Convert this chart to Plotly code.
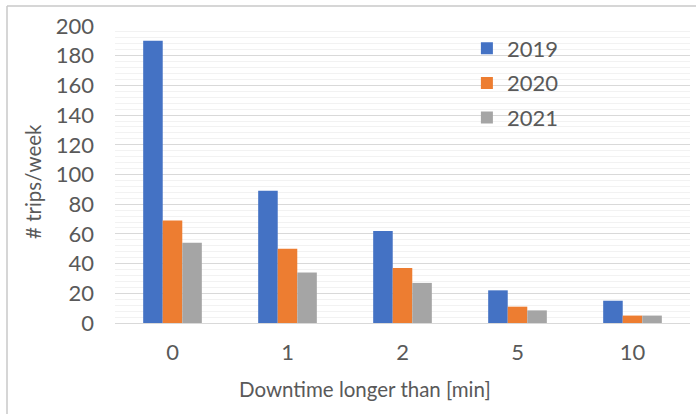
import plotly.graph_objects as go

categories = ["0", "1", "2", "5", "10"]
series_names = ["2019", "2020", "2021"]
trips_2019 = [190, 89, 62, 22, 15]
trips_2020 = [69, 50, 37, 11, 5]
trips_2021 = [54, 34, 27, 8.5, 5]
colors = ["#4472C4", "#ED7D31", "#A5A5A5"]

W, H = 696, 414
L, R, T, B = 115, 6, 26, 91
FONT = "Lato, 'Open Sans', sans-serif"
TXT = "#595959"
FS = 22
FS_TITLE = 20.5

fig = go.Figure()
for name, vals, col in zip(series_names, [trips_2019, trips_2020, trips_2021], colors):
    fig.add_trace(go.Bar(
        x=categories, y=vals, name=name, legendgroup=name,
        marker=dict(color=col, line=dict(width=0)),
    ))

fig.update_layout(
    width=W, height=H,
    margin=dict(l=L, r=R, t=T, b=B),
    paper_bgcolor="white", plot_bgcolor="white",
    barmode="group", bargap=0.49, bargroupgap=0,
    font=dict(family=FONT, size=FS, color=TXT),
    legend=dict(
        x=0.612, y=0.995, xanchor="left", yanchor="top",
        font=dict(size=FS, color=TXT),
        bgcolor="rgba(0,0,0,0)",
        traceorder="grouped", tracegroupgap=3,
        itemwidth=30,
    ),
    showlegend=True,
)

fig.update_xaxes(
    type="category", showgrid=False, zeroline=False,
    showline=False, ticks="", tickfont=dict(size=FS, color=TXT),
    ticklabelstandoff=14,
)
fig.update_yaxes(
    range=[0, 200], dtick=20, showgrid=True, gridcolor="#D9D9D9", gridwidth=1,
    minor=dict(dtick=4, showgrid=True, gridcolor="#F2F2F2", gridwidth=1),
    zeroline=True, zerolinecolor="#D9D9D9", zerolinewidth=1,
    showline=False, ticks="", tickfont=dict(size=FS, color=TXT),
    ticklabelstandoff=20,
)

# axis titles placed in pixel terms relative to the figure
pw = W - L - R
ph = H - T - B
def px_x(px):
    return (px - L) / pw
def px_y(py):
    return (H - B - py) / ph

fig.add_annotation(
    text="# trips/week", textangle=-90, showarrow=False,
    xref="paper", yref="paper", x=px_x(33), y=px_y(182),
    xanchor="center", yanchor="middle",
    font=dict(size=FS_TITLE, color=TXT, family=FONT),
)
fig.add_annotation(
    text="Downtime longer than [min]", showarrow=False,
    xref="paper", yref="paper", x=px_x(365), y=px_y(389),
    xanchor="center", yanchor="middle",
    font=dict(size=FS_TITLE, color=TXT, family=FONT),
)

# chart-area frame along the top and left edges
fig.add_shape(type="line", xref="paper", yref="paper",
              x0=px_x(7), x1=px_x(W), y0=px_y(6), y1=px_y(6),
              line=dict(color="#C8C8C8", width=1.5))
fig.add_shape(type="line", xref="paper", yref="paper",
              x0=px_x(7), x1=px_x(7), y0=px_y(6), y1=px_y(H),
              line=dict(color="#C8C8C8", width=1.5))

fig.write_html("out.html")
